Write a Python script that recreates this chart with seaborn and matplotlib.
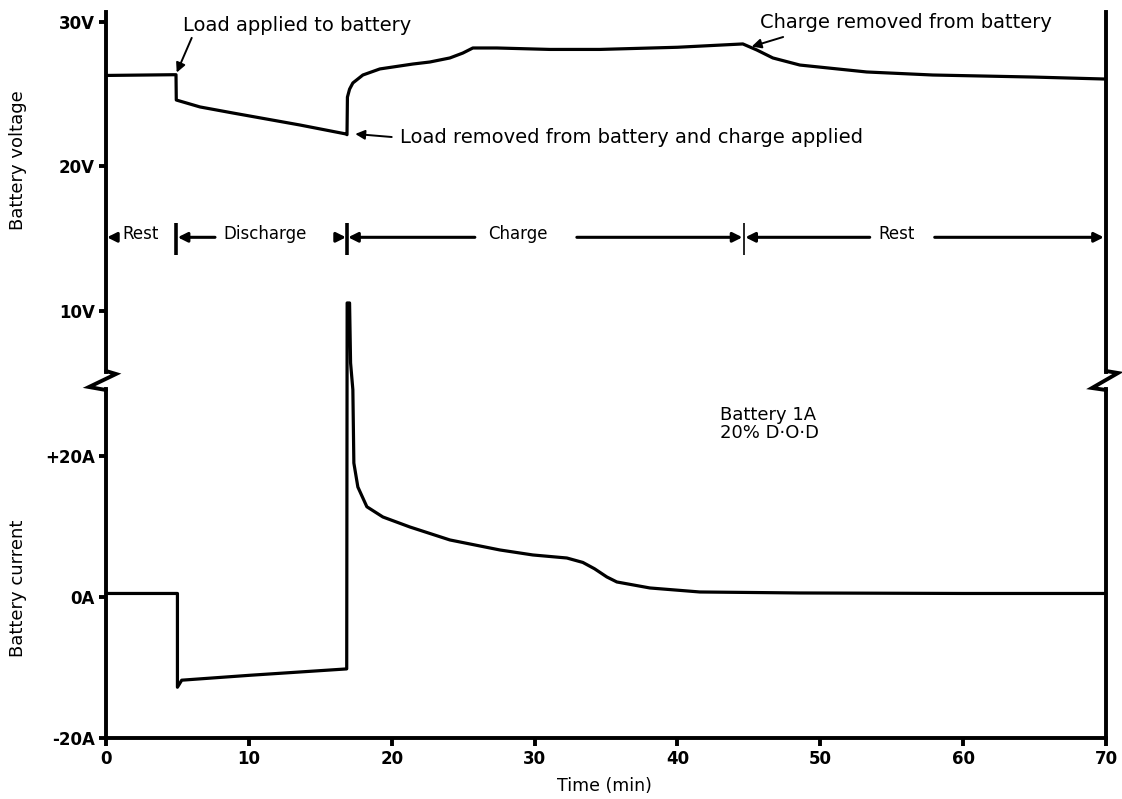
import matplotlib
matplotlib.use("Agg")
import matplotlib.pyplot as plt
from matplotlib.lines import Line2D
import pandas as pd
import seaborn as sns

# Battery voltage trace (min, V)
time_v = [0, 4.7, 4.9, 4.92, 6.58, 8.89, 13.58, 16.8, 16.87, 16.9, 17.05, 17.28, 17.98,
          19.17, 21.48, 22.67, 24.07, 24.98, 25.68, 27.36, 31.07, 34.57, 40.0,
          44.58, 45.56, 46.68, 48.57, 53.25, 57.87, 64.87, 70.0]
volts = [26.3, 26.35, 26.35, 24.6, 24.12, 23.7, 22.87, 22.25, 22.2, 24.8, 25.35, 25.78, 26.33,
         26.75, 27.09, 27.23, 27.51, 27.85, 28.2, 28.2, 28.1, 28.1, 28.25,
         28.48, 28.06, 27.51, 27.02, 26.54, 26.33, 26.19, 26.05]

# Battery current trace (min, A)
time_i = [0, 5.0, 5.0, 5.3, 10.1, 16.85, 16.88, 17.05, 17.12, 17.28, 17.35, 17.63,
          18.26, 19.38, 21.27, 24.07, 27.57, 29.88, 32.26, 33.38, 34.2, 35.06, 35.76,
          38.07, 41.57, 48.57, 60.0, 70.0]
amps = [0.5, 0.5, -12.8, -11.8, -11.1, -10.2, 41.7, 41.7, 33.2, 29.4, 19.0, 15.6,
        12.8, 11.35, 9.93, 8.09, 6.67, 5.96, 5.53, 4.9, 4.0, 2.84, 2.13,
        1.28, 0.71, 0.57, 0.5, 0.5]

volt_ticks = [10, 20, 30]
volt_labels = ["10V", "20V", "30V"]
amp_ticks = [-20, 0, 20]
amp_labels = ["-20A", "0A", "+20A"]
time_ticks = [0, 10, 20, 30, 40, 50, 60, 70]

phase_edges = [4.9, 16.87, 44.65]
phase_names = ["Rest", "Discharge", "Charge", "Rest"]
phase_centers = [2.45, 11.13, 28.83, 55.35]

sns.set_style("ticks")
plt.rcParams["font.family"] = ["DejaVu Sans"]
plt.rcParams["text.color"] = "black"
plt.rcParams["axes.labelcolor"] = "black"
plt.rcParams["xtick.color"] = "black"
plt.rcParams["ytick.color"] = "black"

W, H = 1122, 799
fig = plt.figure(figsize=(W / 100, H / 100), dpi=100)


def box(left, top, right, bottom):
    return [left / W, 1 - bottom / H, (right - left) / W, (bottom - top) / H]


ax_v = fig.add_axes(box(106, 12, 1106, 372))
ax_i = fig.add_axes(box(106, 389, 1106, 738))
for ax in (ax_v, ax_i):
    ax.set_facecolor("none")

df_v = pd.DataFrame({"t": time_v, "v": volts})
df_i = pd.DataFrame({"t": time_i, "a": amps})

sns.lineplot(data=df_v, x="t", y="v", ax=ax_v, estimator=None, sort=False,
             color="black", lw=2.3)
sns.lineplot(data=df_i, x="t", y="a", ax=ax_i, estimator=None, sort=False,
             color="black", lw=2.3)
ax_i.lines[-1].set_clip_on(False)

ax_v.set_xlim(0, 70)
ax_i.set_xlim(0, 70)
ax_v.set_ylim(5.78, 30.69)
ax_i.set_ylim(-20, 29.5)

spine_lw = 2.8
for side in ("top", "bottom"):
    ax_v.spines[side].set_visible(False)
ax_i.spines["top"].set_visible(False)
for ax in (ax_v, ax_i):
    for side in ("left", "right"):
        ax.spines[side].set_visible(True)
        ax.spines[side].set_linewidth(spine_lw)
        ax.spines[side].set_color("black")
ax_i.spines["bottom"].set_linewidth(spine_lw)
ax_i.spines["bottom"].set_color("black")

ax_v.set_yticks(volt_ticks)
ax_v.set_yticklabels(volt_labels, fontweight="bold", fontsize=12)
ax_v.tick_params(axis="x", bottom=False, labelbottom=False)
ax_v.tick_params(axis="y", direction="out", length=5, width=2.8, pad=3)

ax_i.set_yticks(amp_ticks)
ax_i.set_yticklabels(amp_labels, fontweight="bold", fontsize=12)
ax_i.set_xticks(time_ticks)
ax_i.set_xticklabels([str(t) for t in time_ticks], fontweight="bold", fontsize=12)
ax_i.tick_params(axis="y", direction="out", length=5, width=2.8, pad=3)
ax_i.tick_params(axis="x", direction="out", length=6, width=2.8, pad=3)
for ax in (ax_v, ax_i):
    ax.tick_params(right=False, top=False)
    ax.set_xlabel("")
    ax.set_ylabel("")

# Axis-break zigzags on both vertical spines
for pts in ([(106, 371), (116, 374), (89, 387), (106, 390)],
            [(1106, 371), (1118, 373), (1092, 388), (1106, 390)]):
    xs = [p[0] / W for p in pts]
    ys = [1 - p[1] / H for p in pts]
    fig.add_artist(Line2D(xs, ys, transform=fig.transFigure, color="black",
                          lw=spine_lw, solid_joinstyle="miter"))

# Axis titles
fig.text(18 / W, 1 - 160 / H, "Battery voltage", rotation=90, ha="center",
         va="center", fontsize=13)
fig.text(18 / W, 1 - 588 / H, "Battery current", rotation=90, ha="center",
         va="center", fontsize=13)
fig.text(604 / W, 1 - 786 / H, "Time (min)", ha="center", va="center", fontsize=12.5)

# Event annotations on the voltage trace
arrow_kw = dict(arrowstyle="-|>", color="black", lw=1.4, mutation_scale=14,
                shrinkA=0, shrinkB=0)
ax_v.text(5.39, 29.79, "Load applied to battery", fontsize=14, ha="left", va="center")
ax_v.annotate("", xy=(4.95, 26.5), xytext=(6.0, 28.9), arrowprops=arrow_kw)

ax_v.text(20.57, 22.04, "Load removed from battery and charge applied",
          fontsize=14, ha="left", va="center")
ax_v.annotate("", xy=(17.45, 22.25), xytext=(20.0, 22.04), arrowprops=arrow_kw)

ax_v.text(45.77, 29.93, "Charge removed from battery", fontsize=14,
          ha="left", va="center")
ax_v.annotate("", xy=(45.2, 28.3), xytext=(47.4, 28.96), arrowprops=arrow_kw)

# Test condition note
ax_i.text(42.97, 25.8, "Battery 1A", fontsize=13, ha="left", va="center")
ax_i.text(42.97, 23.2, "20% D·O·D", fontsize=13, ha="left", va="center")

# Phase strip
row_v = 15.1
text_v = 15.3
for t in phase_edges:
    ax_v.plot([t, t], [13.9, 16.1], color="black",
              lw=1.2 if t > 40 else 2.6, solid_capstyle="butt")
for name, c in zip(phase_names, phase_centers):
    ax_v.text(c, text_v, name, fontsize=12, ha="center", va="center")

phase_kw = dict(arrowstyle="-|>", color="black", lw=2.2, mutation_scale=14,
                shrinkA=0, shrinkB=0)
segments = [
    (0.75, 0.07),
    (7.63, 5.02),
    (16.2, 16.8),
    (25.82, 16.95),
    (32.96, 44.55),
    (53.46, 44.75),
    (58.01, 69.85),
]
for tail, tip in segments:
    ax_v.annotate("", xy=(tip, row_v), xytext=(tail, row_v), arrowprops=phase_kw)

fig.savefig("out.png", dpi=100)
